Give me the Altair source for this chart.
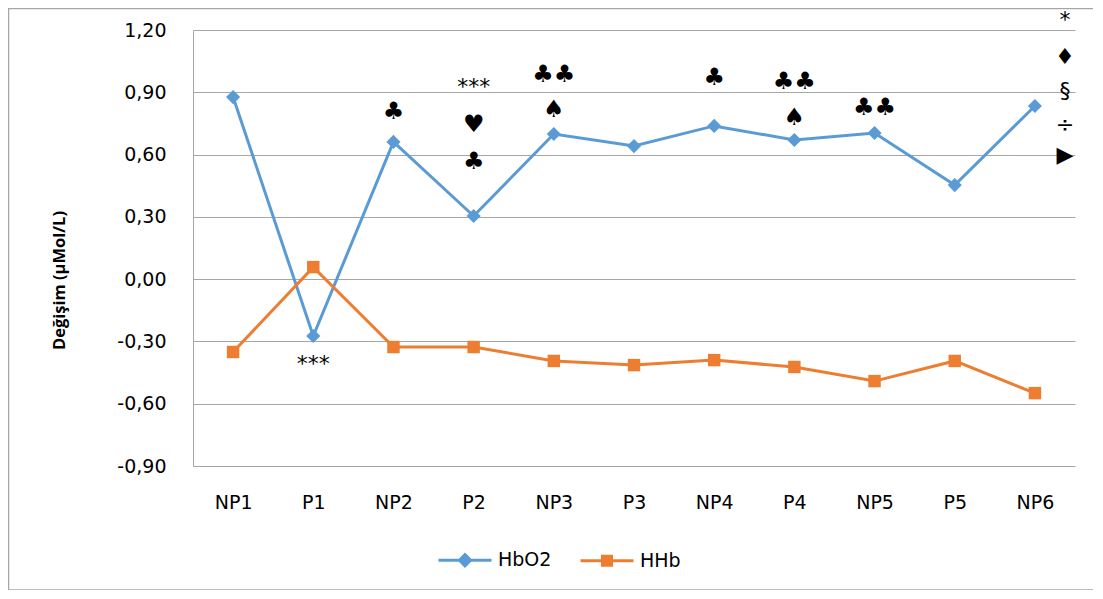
import altair as alt
import pandas as pd

categories = ["NP1", "P1", "NP2", "P2", "NP3", "P3", "NP4", "P4", "NP5", "P5", "NP6"]
hbo2 = [0.877, -0.274, 0.661, 0.304, 0.699, 0.641, 0.738, 0.670, 0.704, 0.453, 0.834]
hhb = [-0.351, 0.058, -0.327, -0.327, -0.394, -0.414, -0.390, -0.423, -0.491, -0.394, -0.549]
series_names = ["HbO2", "HHb"]
series_colors = ["#5b9bd5", "#ed7d31"]
y_ticks = [-0.9, -0.6, -0.3, 0.0, 0.3, 0.6, 0.9, 1.2]

ann_cat = ["P1", "NP2", "P2", "P2", "P2", "NP3", "NP3", "NP4", "P4", "P4", "NP5"]
ann_y = [-0.41, 0.805, 0.925, 0.742, 0.564, 0.983, 0.815, 0.969, 0.95, 0.776, 0.824]
ann_text = ["***", "♣", "***", "♥", "♣", "♣♣", "♠", "♣", "♣♣", "♠", "♣♣"]

side_cat = ["NP6", "NP6", "NP6", "NP6", "NP6"]
side_y = [1.25, 1.07, 0.905, 0.742, 0.598]
side_text = ["*", "♦", "§", "÷", "▶"]

df = pd.DataFrame({
    "cat": categories * 2,
    "series": ["HbO2"] * len(categories) + ["HHb"] * len(categories),
    "v": hbo2 + hhb,
})
ann_df = pd.DataFrame({"cat": ann_cat, "v": ann_y, "t": ann_text})
side_df = pd.DataFrame({"cat": side_cat, "v": side_y, "t": side_text})

FONT = "DejaVu Sans"

x_enc = alt.X("cat:N", sort=categories,
              scale=alt.Scale(type="point", domain=categories, padding=0.5),
              axis=alt.Axis(title=None, domain=False, ticks=False, labelAngle=0,
                            labelFont=FONT, labelFontSize=19, labelColor="#000000",
                            labelPadding=27))
y_enc = alt.Y("v:Q", scale=alt.Scale(domain=[-0.9, 1.2], nice=False, zero=False),
              axis=alt.Axis(title="Değişim (µMol/L)", values=y_ticks,
                            labelExpr="replace(replace(format(datum.value, '.2f'), '.', ','), '\u2212', '-')",
                            grid=True, gridColor="#a6a6a6", gridWidth=1,
                            domain=True, domainColor="#a6a6a6", ticks=False,
                            labelFont=FONT, labelFontSize=19, labelColor="#000000",
                            labelPadding=27, titleFont="Open Sans", titleFontSize=16.5,
                            titleFontWeight="bold", titleColor="#000000", titlePadding=49,
                            titleY=250))

color_scale = alt.Scale(domain=series_names, range=series_colors)

diamond_path = ("M-1,0L1,0 M0,-0.21L0.21,0L0,0.21L-0.21,0Z "
                "M0,-0.12L0.12,0L0,0.12L-0.12,0Z M0,-0.04L0.04,0L0,0.04L-0.04,0Z")
square_path = ("M-1,0L1,0 M-0.17,-0.17L0.17,-0.17L0.17,0.17L-0.17,0.17Z "
               "M-0.09,-0.09L0.09,-0.09L0.09,0.09L-0.09,0.09Z M-0.02,-0.02L0.02,-0.02L0.02,0.02L-0.02,0.02Z")

base = alt.Chart(df)

lines = base.mark_line(strokeWidth=3).encode(
    x=x_enc, y=y_enc,
    color=alt.Color("series:N", scale=color_scale, legend=None),
    detail="series:N",
)

pts_hbo2 = base.transform_filter("datum.series == 'HbO2'").mark_point(
    shape="diamond", filled=True, size=200, opacity=1, color="#5b9bd5"
).encode(x=x_enc, y=y_enc)

pts_hhb = base.transform_filter("datum.series == 'HHb'").mark_square(
    size=155, opacity=1, color="#ed7d31"
).encode(x=x_enc, y=y_enc)

leg_props = dict(title=None, orient="none", legendX=244, legendY=502, direction="horizontal",
                 columns=2, labelFont=FONT, labelFontSize=19, labelColor="#000000",
                 labelOffset=5, columnPadding=22, symbolSize=2809, symbolStrokeWidth=3,
                 symbolOpacity=1, padding=0)

legend_layer = base.transform_filter("false").mark_point(filled=False, strokeWidth=3).encode(
    x=x_enc, y=y_enc,
    color=alt.Color("series:N", scale=color_scale, legend=alt.Legend(**leg_props)),
    shape=alt.Shape("series:N", scale=alt.Scale(domain=series_names, range=[diamond_path, square_path]),
                    legend=alt.Legend(**leg_props)),
)

ann = alt.Chart(ann_df).mark_text(font="DejaVu Sans", color="#000000",
                                  baseline="middle", align="center").encode(
    x=x_enc, y=y_enc, text="t:N",
    size=alt.condition("datum.t == '***'", alt.value(22), alt.value(24)))

side = alt.Chart(side_df).mark_text(font="DejaVu Sans", fontSize=22, color="#000000",
                                    baseline="middle", align="center", dx=30).encode(
    x=x_enc, y=y_enc, text="t:N")

frame = alt.Chart(pd.DataFrame({"k": [0]})).mark_rect(
    fill="transparent", stroke="#a6a6a6", strokeWidth=1.5
).encode(x=alt.value(-184.5), x2=alt.value(1200), y=alt.value(-21.5), y2=alt.value(560))

chart = alt.layer(frame, lines, pts_hbo2, pts_hhb, legend_layer, ann, side).resolve_legend(
    color="independent", shape="independent"
).properties(
    width=882, height=436,
    autosize=alt.AutoSizeParams(type="none"),
    padding={"left": 185, "top": 22, "right": 18, "bottom": 124},
    background="#ffffff",
).configure_view(stroke=None)

chart.save("out.html", embed_options={"renderer": "svg", "actions": False})
